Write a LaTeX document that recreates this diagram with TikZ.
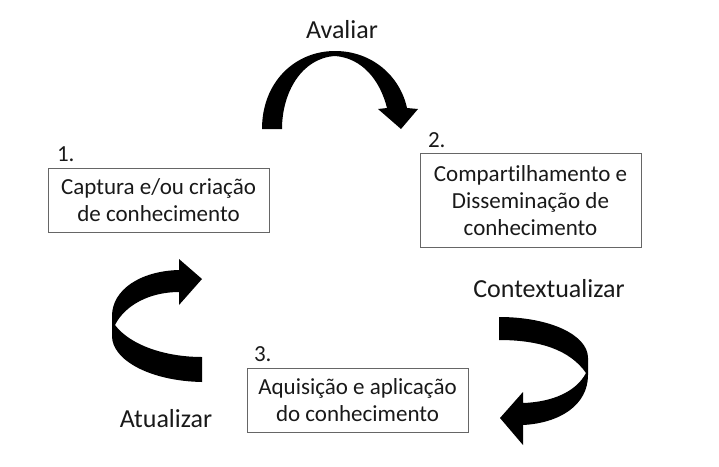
\documentclass[tikz,border=0pt]{standalone}
\usepackage{fontspec}
\setmainfont{Carlito}[Ligatures=NoCommon]
\begin{document}
\begin{tikzpicture}[x=1pt,y=-1pt,
  every node/.style={inner sep=0pt, outer sep=0pt, font=\fontsize{23}{27}\selectfont, text=black!90},
  box/.style={draw=black!60, line width=0.8pt, align=center},
  lbl/.style={anchor=base, font=\fontsize{26}{30}\selectfont},
  bigarrow/.style={fill=black, draw=none}]
\useasboundingbox (0,0) rectangle (719,466);
% boxes
\node[box, minimum width=221pt, minimum height=64pt] (b1) at (158.5,200) {Captura e/ou criação\\de conhecimento};
\node[box, minimum width=221pt, minimum height=94pt] (b2) at (530.5,200.3) {Compartilhamento e\\Disseminação de\\conhecimento};
\node[box, minimum width=221pt, minimum height=64pt] (b3) at (357.5,400) {Aquisição e aplicação\\do conhecimento};
% numbers
\node[anchor=base west] (n1) at (57,161) {1.};
\node[anchor=base west] (n2) at (428,147) {2.};
\node[anchor=base west] (n3) at (254,361) {3.};
% labels
\node[lbl] (avaliar) at (342,38) {Avaliar};
\node[lbl] (context) at (549,297) {Contextualizar};
\node[lbl] (atual) at (166,427) {Atualizar};
% top arrow (Avaliar)
\fill[bigarrow] (262,129) .. controls (262,82) and (295,51) .. (335,51)
  .. controls (372,51) and (400,76) .. (407,108)
  -- (418,109) -- (401,129) -- (378,109) -- (387,108)
  .. controls (380,80) and (362,58) .. (335,56)
  .. controls (302,58) and (282,92) .. (282,129) -- cycle;
% right arrow (Contextualizar)
\fill[bigarrow] (499,317) .. controls (550,317) and (588,335) .. (588,358)
  -- (588,375) .. controls (588,405) and (560,423) .. (523,425)
  -- (523,445) -- (500,418) -- (523,392) -- (523,403)
  .. controls (552,402) and (576,392) .. (586,373)
  .. controls (570,350) and (540,340) .. (499,340) -- cycle;
% left arrow (Atualizar)
\fill[bigarrow] (202,357) -- (202,382) .. controls (150,381) and (112,360) .. (112,336)
  -- (112,316) .. controls (112,290) and (140,271) .. (179,270)
  -- (179,259) -- (202,279) -- (179,305) -- (179,292)
  .. controls (150,292) and (125,305) .. (115,325)
  .. controls (130,345) and (165,357) .. (202,357) -- cycle;
\end{tikzpicture}
\end{document}
